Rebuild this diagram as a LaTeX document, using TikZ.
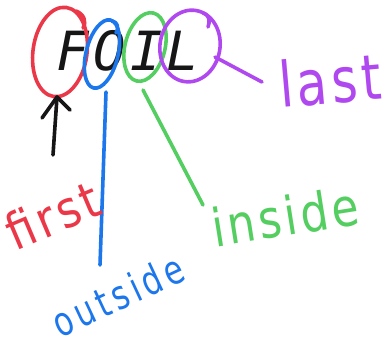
\documentclass[tikz,border=0pt]{standalone}
\usepackage{fontspec}
\setmainfont{DejaVu Sans}
\newfontfamily\foilfont[LetterSpace=8]{DejaVu Sans Mono}
\newfontfamily\spacedfont[LetterSpace=8]{DejaVu Sans}
\newfontfamily\widefont[LetterSpace=14]{DejaVu Sans}
\definecolor{penred}{RGB}{234,56,72}
\definecolor{penblue}{RGB}{28,118,236}
\definecolor{pengreen}{RGB}{84,206,96}
\definecolor{penpurple}{RGB}{176,72,240}
\definecolor{penblack}{RGB}{22,22,22}
\begin{document}
\begin{tikzpicture}[x=1pt,y=1pt,
  pen/.style={line width=3.6pt,line cap=round,line join=round},
  lab/.style={inner sep=0pt,anchor=center}]
\useasboundingbox (0,0) rectangle (387,-349);
% letters
\node[lab,anchor=base,text=penblack] (foil) at (128,-70)
  {\fontsize{54}{54}\foilfont\itshape FOIL};
% circles
\draw[pen,penred] (60,-52) ellipse [x radius=27,y radius=45,rotate=-8];
\draw[pen,penred] (76,-11) .. controls (84,-14) and (87,-22) .. (83,-28);
\draw[pen,penblue] (102,-54) ellipse [x radius=16,y radius=35,rotate=-14];
\draw[pen,penblue] (112,-21) .. controls (118,-22) and (119,-28) .. (116,-33);
\draw[pen,pengreen] (145,-47) ellipse [x radius=20,y radius=35,rotate=-14];
\draw[pen,penpurple] (190,-46) ellipse [x radius=30,y radius=36,rotate=-10];
\draw[pen,penpurple] (203,-13) .. controls (210,-15) and (210,-22) .. (208,-27);
% connector ends
\coordinate (atip) at (57,-97);
\coordinate (abot) at (53,-155);
\coordinate (aleft) at (42,-118);
\coordinate (aright) at (70,-110);
\coordinate (bTop) at (106,-92);
\coordinate (bBot) at (100,-265);
\coordinate (gTop) at (143,-90);
\coordinate (gBot) at (203,-205);
\coordinate (pTop) at (215,-57);
\coordinate (pBot) at (262,-82);
% arrow
\draw[pen,penblack] (abot) -- (atip);
\draw[pen,penblack] (aleft) -- (atip) -- (aright);
% lines
\draw[pen,penblue] (bTop) -- (bBot);
\draw[pen,pengreen] (gTop) -- (gBot);
\draw[pen,penpurple] (pTop) -- (pBot);
% labels
\node[lab,text=penred,rotate=23] (first) at (53,-215)
  {\fontsize{44}{44}\spacedfont\scalebox{1}[1.15]{first}};
\node[lab,text=penblue,rotate=25] (outside) at (118,-295)
  {\fontsize{31}{31}\widefont\scalebox{1}[1.3]{outside}};
\node[lab,text=pengreen,rotate=9] (inside) at (285,-216)
  {\fontsize{44}{44}\spacedfont\scalebox{1}[1.2]{inside}};
\node[lab,text=penpurple,rotate=5] (last) at (330,-80)
  {\fontsize{50}{50}\spacedfont\scalebox{1}[1.25]{last}};
\end{tikzpicture}
\end{document}
